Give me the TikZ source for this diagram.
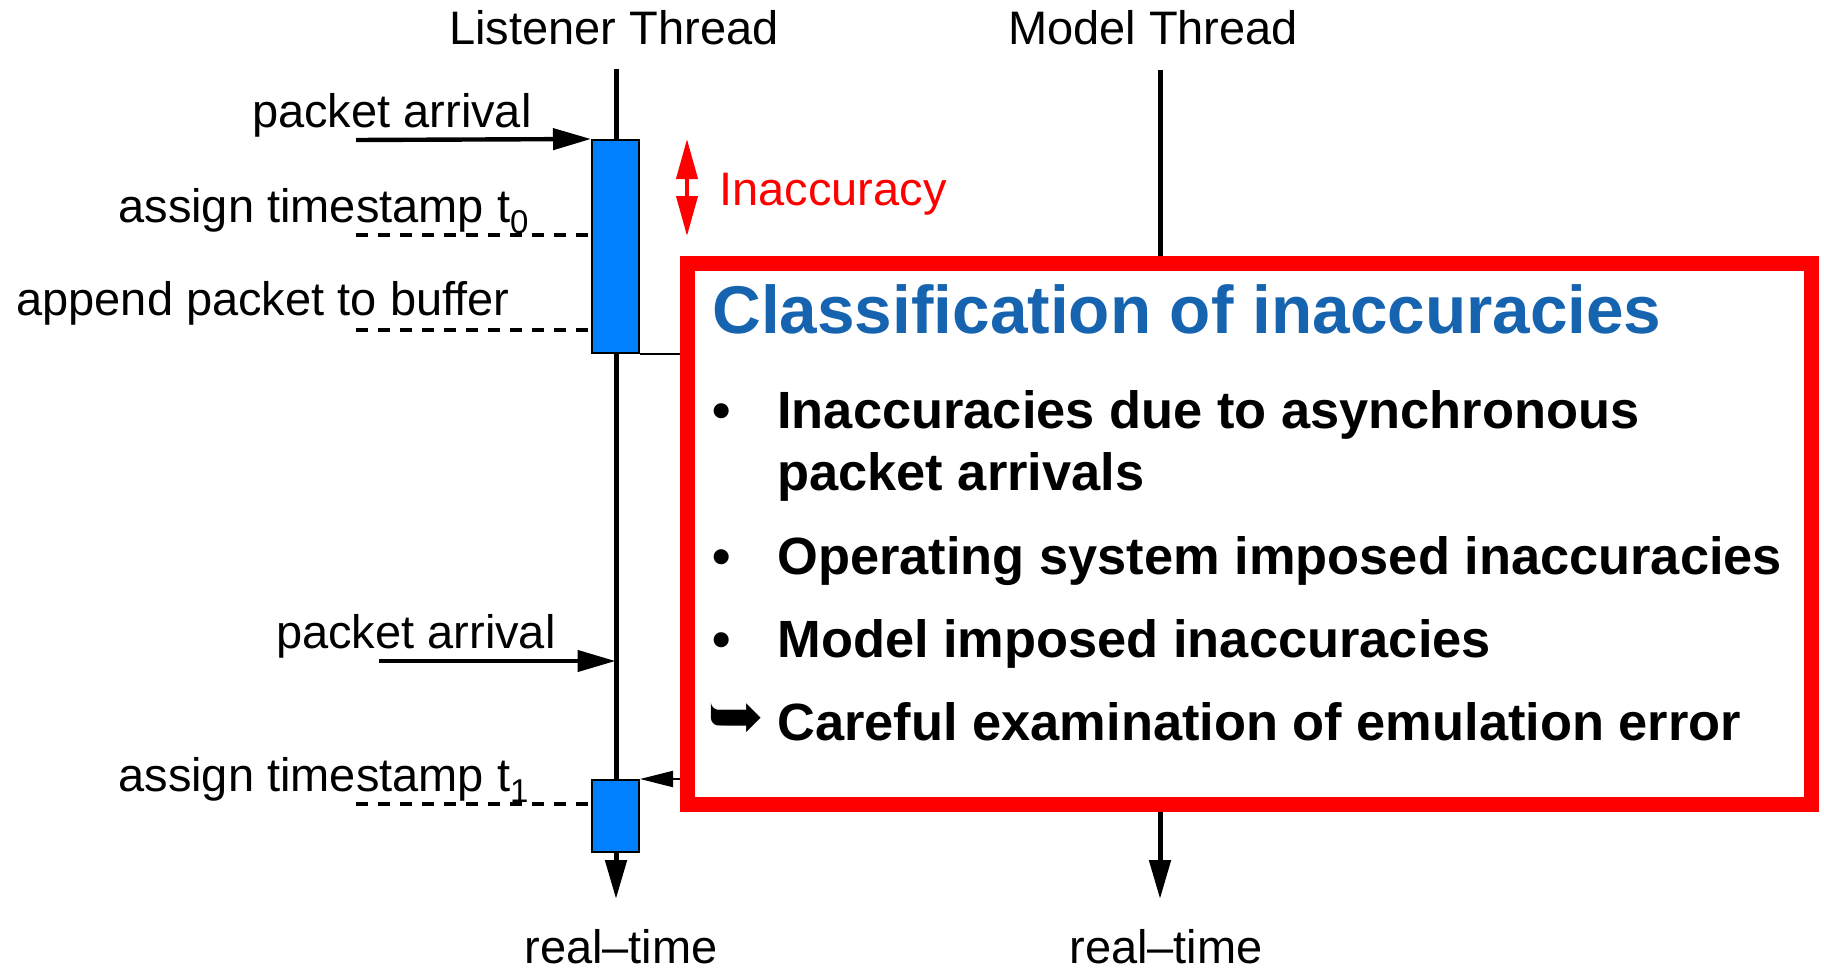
\documentclass[tikz,border=0pt]{standalone}
\usepackage{fontspec}
\setmainfont{Liberation Sans}
\newfontfamily\symfont{DejaVu Sans}
\usetikzlibrary{arrows.meta}
\definecolor{actblue}{RGB}{0,128,255}
\definecolor{titleblue}{RGB}{22,100,176}
\definecolor{alertred}{RGB}{255,0,0}

% lowered subscript set in the text font
\newcommand{\lowsub}[1]{\raisebox{-5.5pt}{\fontsize{16.5}{20}\selectfont #1}}

\tikzset{
  lbl/.style={font=\fontsize{23.5}{28}\selectfont, inner sep=0pt},
  bitem/.style={font=\fontsize{26.2}{31}\selectfont\bfseries, inner sep=0pt, anchor=base west},
  thread/.style={line width=2.5pt},
  msg/.style={line width=2.2pt, -{Triangle[length=19pt,width=10.5pt]}},
  stamp/.style={line width=2.4pt, dash pattern=on 6pt off 5pt},
  activity/.style={draw=black, line width=1pt, fill=actblue, inner sep=0pt,
                   minimum width=23.5pt},
}

\begin{document}
\begin{tikzpicture}[x=0.5pt,y=-0.5pt]
\useasboundingbox (0,0) rectangle (1824,974);

% thread headers
\node[lbl, anchor=base] (lhead) at (614,45) {Listener Thread};
\node[lbl, anchor=base] (mhead) at (1153,45) {Model Thread};

% time axes
\coordinate (ltop) at (616,69);
\coordinate (lend) at (616,899);
\coordinate (mtop) at (1160,70);
\coordinate (mend) at (1160,899);
\draw[thread, -{Triangle[length=19.5pt,width=10.5pt]}] (ltop) -- (lend);

% summary frame
\node[draw=alertred, line width=7.5pt, fill=white, inner sep=0pt,
      minimum width=561.75pt, minimum height=270.5pt] (summary) at (1249.25,534) {};
\draw[thread] (mtop) -- (mtop |- summary.north);
\draw[thread, -{Triangle[length=19.5pt,width=10.5pt]}] (mtop |- summary.south) -- (mend);

% activity boxes on the listener thread
\node[activity, minimum height=106.5pt] (act1) at (615.5,246.5) {};
\node[activity, minimum height=36pt] (act2) at (615.5,816) {};

% first packet
\coordinate (pa1) at (356,140);
\draw[msg] (pa1) -- (act1.north west);
\node[lbl, anchor=base east] (pa1lbl) at (532,127) {packet arrival};
\coordinate (ts0) at (356,235);
\draw[stamp] (ts0) -- (ts0 -| act1.west);
\node[lbl, anchor=base west] (ts0lbl) at (118,222) {assign timestamp t\lowsub{0}};
\coordinate (buf) at (356,330);
\draw[stamp] (buf) -- (buf -| act1.west);
\node[lbl, anchor=base west] (buflbl) at (16,315) {append packet to buffer};
\draw[line width=1pt] (act1.south east) -- (act1.south east -| summary.west);

% inaccuracy marker
\coordinate (ia) at (687,139);
\coordinate (ib) at (687,236);
\draw[alertred, line width=2pt,
      {Triangle[length=20pt,width=10.5pt]}-{Triangle[length=20pt,width=10.5pt]}] (ia) -- (ib);
\node[lbl, anchor=base west, text=alertred] (ialbl) at (719,205) {Inaccuracy};

% second packet
\coordinate (pa2) at (379,661);
\draw[msg] (pa2) -- (pa2 -| act2.north);
\node[lbl, anchor=base east] (pa2lbl) at (556,648) {packet arrival};
\coordinate (ts1) at (356,804);
\draw[stamp] (ts1) -- (ts1 -| act2.west);
\node[lbl, anchor=base west] (ts1lbl) at (118,791) {assign timestamp t\lowsub{1}};
\draw[line width=1pt, -{Triangle[length=16.5pt,width=8pt]}]
  (act2.north east -| summary.west) -- (act2.north east);

% axis labels
\node[lbl, anchor=base] (lrt) at (621,963) {real--time};
\node[lbl, anchor=base] (mrt) at (1166,963) {real--time};

% summary contents
\node[anchor=base west, inner sep=0pt, text=titleblue,
      font=\fontsize{33.75}{40}\selectfont\bfseries] (title) at (712,333)
  {Classification of inaccuracies};
\node[bitem] (b1) at (712,428) {•};
\node[bitem] (i1) at (777,428) {Inaccuracies due to asynchronous};
\node[bitem] (i1b) at (777,490) {packet arrivals};
\node[bitem] (b2) at (712,574) {•};
\node[bitem] (i2) at (777,574) {Operating system imposed inaccuracies};
\node[bitem] (b3) at (712,657) {•};
\node[bitem] (i3) at (777,657) {Model imposed inaccuracies};
\node[inner sep=0pt, font=\symfont\fontsize{34}{40}\selectfont] (arr) at (736,721) {➥};
\node[bitem] (i4) at (777,740) {Careful examination of emulation error};
\end{tikzpicture}
\end{document}
